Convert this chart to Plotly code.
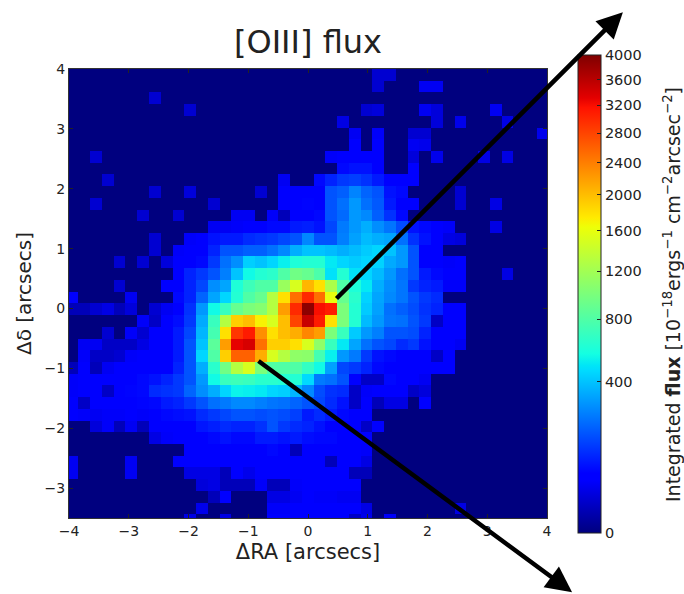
import math
import plotly.graph_objects as go

# Flux per pixel, row by row from the top (y=+4) downward, left to right.
# Trailing zeros omitted in each row.
FLUX_ROWS = [
[0]*26+[20,20],
[0]*26+[20,0,0,0,40,40],
[0]*7+[20],
[0]*10+[20]+[0]*14+[20,25,0,0,0,40,25,0,0,0,0,40],
[0]*23+[30,0,0,0,0,0,0,0,25,0,35,0,0,0,30],
[0]*24+[40,0,45,0,0,20,20,0,0,0,0,0,0,0,0,0,35],
[0]*24+[50,0,50,0,0,40,35],
[0,0,20]+[0]*19+[45,50,55,55,50,0,0,25,0,35,0,0,0,30,0,30],
[0]*23+[70,80,80,60,0,0,50],
[0,0,0,20]+[0]*14+[40,0,0,70,100,130,140,120,90,60,60,50],
[0]*7+[20,0,0,25,0,0,0,0,0,20,0,50,55,50,60,170,190,260,200,170,80,70,0,0,0,0,20],
[0,0,20]+[0]*9+[20,0,0,0,0,0,50,55,65,60,170,220,300,220,180,90,60,50,0,0,0,20,0,0,30],
[0]*6+[20,0,0,20,0,0,0,0,40,40,0,45,10,60,60,70,170,210,300,270,190,120,70],
[0]*12+[40,40,45,50,50,70,70,90,95,80,150,240,300,350,280,230,160,80,70,60,45,0,0,0,30],
[0]*7+[20,0,0,45,50,80,90,90,110,120,130,150,170,265,170,170,250,320,380,350,330,220,120,80,55,30,25],
[0]*7+[20,0,45,60,60,100,170,170,190,190,220,270,350,400,400,380,350,380,420,450,400,300,170,50,50],
[0]*4+[20,0,20,0,25,50,55,70,130,220,280,430,400,450,520,600,620,620,500,450,420,450,440,340,300,170,50,50,45,50],
[0]*9+[50,100,130,170,250,400,550,620,650,800,950,900,780,480,620,480,450,380,300,220,170,90,70,50,50,0,0,0,30],
[0]*4+[20,0,0,0,50,60,100,150,280,330,600,720,800,800,1150,1500,2050,1800,1250,800,600,500,350,280,230,130,100,90,45,45],
[50,0,0,0,0,40,0,0,0,70,100,200,330,450,620,800,900,1300,1800,2500,3000,2500,1600,900,640,440,330,270,230,170,130,110],
[10,10,20,30,10,25,0,20,40,60,120,300,550,700,900,1000,1050,1300,2200,3000,3900,3200,3100,1000,620,420,320,220,190,160,120,100,55,55],
[0,0,0,0,0,0,45,15,60,75,130,340,700,1300,1900,2000,1700,1500,2000,2800,3500,3100,1800,1000,620,380,300,230,220,170,130,15,50,55],
[0,0,0,20,0,45,20,50,55,90,150,370,750,1800,2900,3100,2300,1800,2000,2100,2350,2200,1000,700,420,300,250,170,170,160,100,55,50,55],
[0,40,40,15,15,15,30,55,60,90,170,400,850,2200,3300,3400,2500,1900,1900,1800,1500,1100,700,500,330,220,170,150,110,130,80,60,50,40],
[0,45,15,15,20,45,50,60,60,90,170,450,800,1900,2600,2600,2100,1500,1300,1100,1080,750,520,300,240,130,80,70,60,60,50,15,50],
[10,50,10,40,50,50,55,60,60,100,170,350,640,950,1300,1500,1000,800,800,800,680,550,320,150,130,100,70,60,60,55,60,50,50],
[45,50,50,55,55,60,70,80,100,130,170,300,550,700,720,700,640,640,620,620,460,240,220,170,60,15,15,70,60,50,40],
[45,60,55,15,60,65,70,110,120,130,200,280,350,450,530,520,500,450,430,370,270,160,120,110,15,45,50,50,55,15,25],
[50,15,55,55,55,60,65,70,90,100,130,170,220,240,270,270,250,230,220,200,170,150,110,80,15,50,10,30,30,0,55],
[50,45,40,45,45,50,45,60,70,75,80,110,130,150,170,170,160,170,160,140,90,110,90,70,60,55],
[0,0,25,45,10,40,10,50,55,55,60,85,95,110,100,100,120,170,130,110,100,80,60,60,55,15,50],
[0,0,0,0,0,0,0,30,45,50,50,60,70,80,70,70,90,90,80,90,75,70,70,55,55,50],
[0]*10+[50,50,55,50,55,50,60,70,60,10,58,55,60,55,50,45],
[40,0,0,0,0,40,0,0,0,50,50,50,50,55,55,55,55,60,60,60,55,50,10,55,50,30],
[40,0,0,0,0,40,0,0,0,0,30,30,30,10,50,35,50,50,50,55,55,50,50,50,10,10],
[0]*11+[25,30,10,10,10,45,10,10,45,50,50,50,50,50],
[0]*12+[10,50,0,0,0,30,30,40,50,45,45,40,40],
[0]*11+[35,0,0,0,0,0,45,45,50,50,50,50,50,50,30,0,0,0,0,0,0,0,30],
[0]*10+[30,0,0,30,0,0,0,50,50,55,55,50,50,50,15,35,0,45],
]
N_COLS = 41
FLUX_GRID = [row + [0]*(N_COLS-len(row)) for row in FLUX_ROWS]
CB_TICKS = [0, 400, 800, 1200, 1600, 2000, 2400, 2800, 3200, 3600, 4000]
X_TICKS = [-4, -3, -2, -1, 0, 1, 2, 3, 4]
Y_TICKS = [-3, -2, -1, 0, 1, 2, 3, 4]

JET = [[0, "rgb(0,0,127)"], [0.11, "rgb(0,0,255)"], [0.125, "rgb(0,0,255)"],
       [0.34, "rgb(0,219,255)"], [0.35, "rgb(0,229,247)"], [0.375, "rgb(20,255,226)"],
       [0.64, "rgb(238,255,7)"], [0.66, "rgb(255,234,0)"], [0.89, "rgb(255,18,0)"],
       [0.91, "rgb(228,0,0)"], [1, "rgb(127,0,0)"]]

font = "DejaVu Sans"
tick_color = "#222"
z = [[math.sqrt(v) for v in row] for row in FLUX_GRID]

def minus(v):
    return f"\u2212{abs(v)}" if v < 0 else str(v)

fig = go.Figure(go.Heatmap(
    z=z, x0=-3.94, dx=0.1967, y0=3.902, dy=-0.1958,
    colorscale=JET, zmin=0, zmax=math.sqrt(4000), xgap=0, ygap=0,
    hoverinfo="skip",
    colorbar=dict(
        x=1.065, xanchor="left", xpad=0, ypad=0,
        y=0.499, yanchor="middle", lenmode="pixels", len=478,
        thicknessmode="pixels", thickness=23,
        tickmode="array", tickvals=[math.sqrt(v) for v in CB_TICKS],
        ticktext=[str(v) for v in CB_TICKS],
        ticks="inside", ticklen=4, tickcolor="#222",
        tickfont=dict(family=font, size=14.5, color=tick_color),
        outlinecolor="#222", outlinewidth=1,
    ),
))

ax = dict(showgrid=False, zeroline=False, ticks="inside", ticklen=4, tickcolor="#222",
          showline=True, linecolor="#333", linewidth=1, mirror="ticks",
          tickfont=dict(family=font, size=14, color=tick_color))
fig.update_layout(
    width=684, height=594, autosize=False,
    margin=dict(l=69, r=137, t=69, b=76),
    paper_bgcolor="white", plot_bgcolor="white",
    showlegend=False,
    title=dict(text="[OIII] flux", x=308/684, xanchor="center", y=1-42/594, yanchor="middle",
               font=dict(family=font, size=32, color="#222")),
    xaxis=dict(ax, range=[-4, 4], tickmode="array", tickvals=X_TICKS,
               ticktext=[minus(v) for v in X_TICKS],
               title=dict(text="\u0394RA [arcsecs]", font=dict(family=font, size=21, color="#222"), standoff=6)),
    yaxis=dict(ax, range=[-3.5, 4], tickmode="array", tickvals=Y_TICKS,
               ticktext=[minus(v) for v in Y_TICKS],
               title=dict(text="\u0394\u03b4 [arcsecs]", font=dict(family=font, size=20, color="#222"), standoff=7)),
)
fig.add_annotation(text="Integrated <b>flux</b> [10<sup>\u221218</sup>ergs<sup>\u22121</sup> cm<sup>\u22122</sup>arcsec<sup>\u22122</sup>]",
                   xref="paper", yref="paper", x=(672-69)/478, y=(518-295)/449,
                   xanchor="center", yanchor="middle", textangle=-90, showarrow=False,
                   font=dict(family=font, size=19, color="#222"))
ARROWS = [((0.452, 0.142), (5.27, 4.95)), ((-0.854, -0.86), (4.42, -4.74))]
for (x0, y0), (x1, y1) in ARROWS:
    fig.add_annotation(x=x1, y=y1, ax=x0, ay=y0, xref="x", yref="y", axref="x", ayref="y",
                       text="", showarrow=True, arrowhead=2, arrowsize=1.15, arrowwidth=4.5,
                       arrowcolor="black", standoff=0, startstandoff=0)
fig.write_html("out.html", config={"displayModeBar": False},
               post_script="document.body.style.margin='0';document.documentElement.style.overflow='hidden';")
